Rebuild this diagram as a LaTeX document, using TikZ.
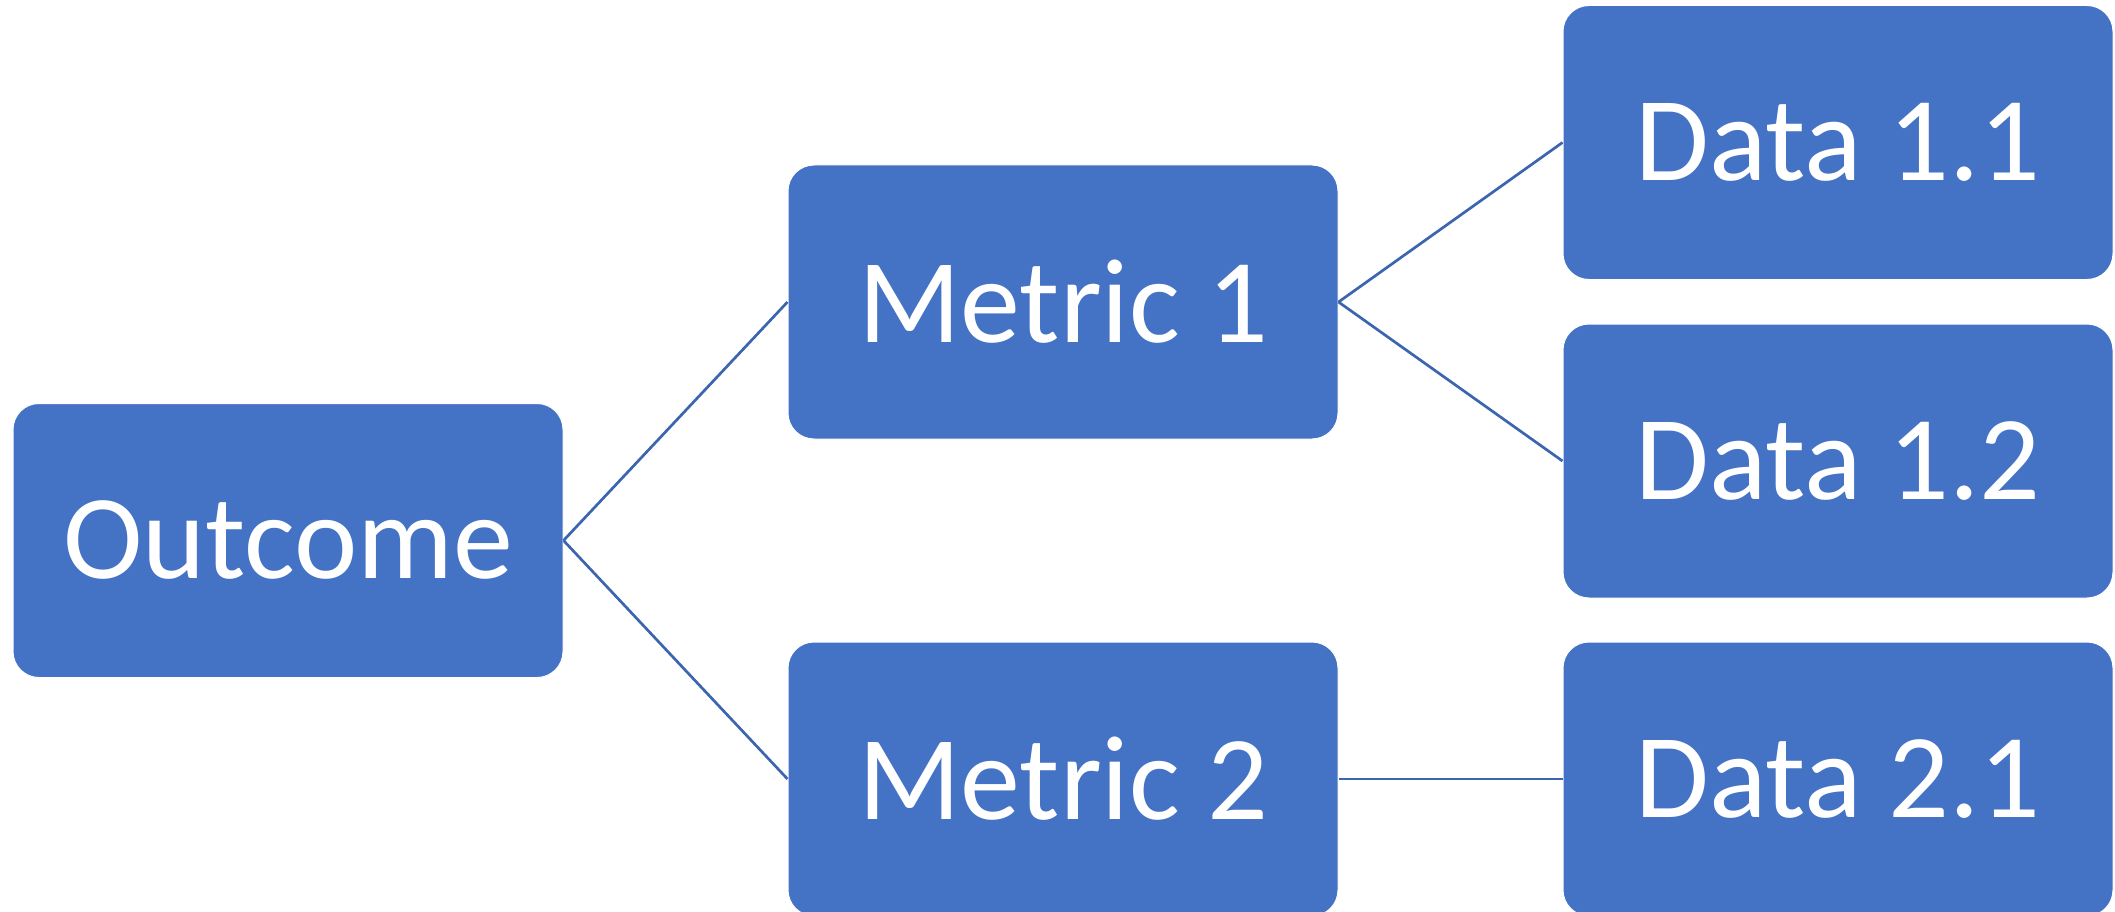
\documentclass[tikz,border=0pt]{standalone}
\usepackage{fontspec}
\setmainfont{Carlito}
\definecolor{boxblue}{HTML}{4472C4}
\definecolor{linkblue}{HTML}{3C65AF}
\begin{document}
\begin{tikzpicture}[x=1pt,y=-1pt,
  box/.style={rectangle, rounded corners=26pt, fill=boxblue, draw=white, line width=1pt,
    minimum width=550pt, minimum height=274pt, inner sep=0pt, text=white,
    font=\fontsize{120}{136}\selectfont},
  link/.style={draw=linkblue, line width=2.7pt}]
\useasboundingbox (0,0) rectangle (2115,912);
\node[box] (out) at (288,540.5) {Outcome};
\node[box] (m1) at (1063,302) {Metric 1};
\node[box] (m2) at (1063,779) {Metric 2};
\node[box] (d11) at (1838,142.5) {Data 1.1};
\node[box] (d12) at (1838,461) {Data 1.2};
\node[box] (d21) at (1838,779) {Data 2.1};
\draw[link] (out.east) -- (m1.west);
\draw[link] (out.east) -- (m2.west);
\draw[link] (m1.east) -- (d11.west);
\draw[link] (m1.east) -- (d12.west);
\draw[link] (m2.east) -- (d21.west);
\end{tikzpicture}
\end{document}
